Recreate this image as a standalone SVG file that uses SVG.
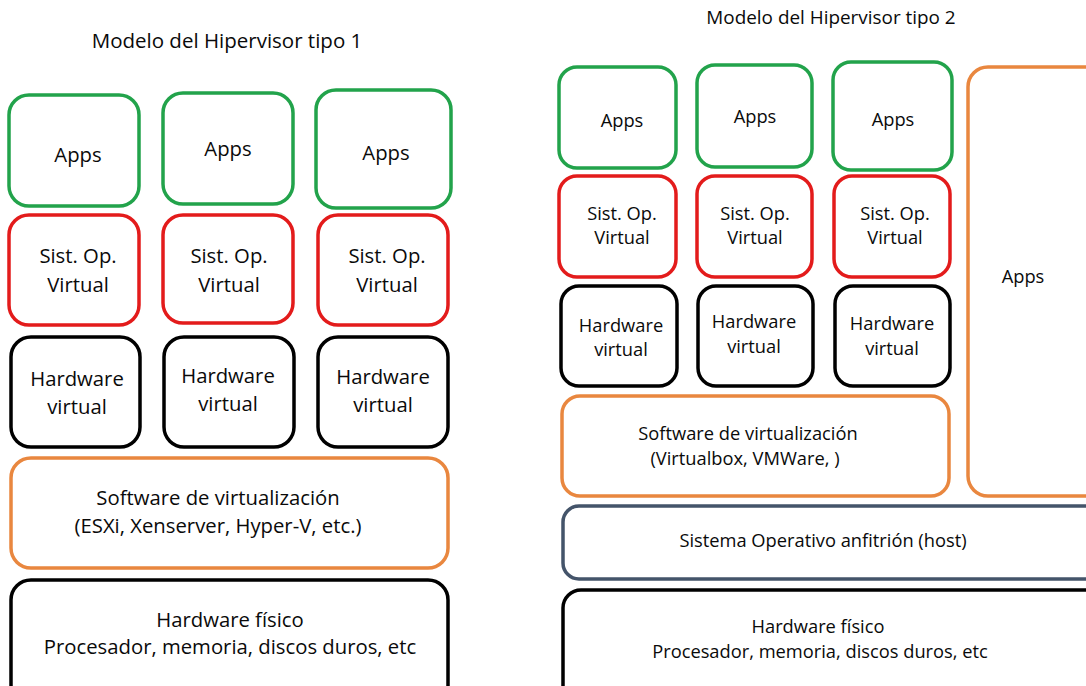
<svg xmlns="http://www.w3.org/2000/svg" width="1086" height="686" viewBox="0 0 1086 686">
<style>
rect{fill:#fff}
.g{stroke:#22A34B;stroke-width:3.5}
.r{stroke:#E31B1B;stroke-width:3.5}
.k{stroke:#000;stroke-width:3.5}
.o{stroke:#E9873F;stroke-width:3.5}
.s{stroke:#44546A;stroke-width:3.5}
text{font-family:"Open Sans","Noto Sans",sans-serif;fill:#0a0a0a;text-anchor:middle}
.L{font-size:20.3px}
.R{font-size:18.3px}
.T1{font-size:20.5px}
.T2{font-size:18.9px}
</style>
<rect width="1086" height="686" style="fill:#fff"/>
<g id="title1"><text class="T1" x="227" y="48">Modelo del Hipervisor tipo 1</text></g>
<g id="title2"><text class="T2" x="831" y="24">Modelo del Hipervisor tipo 2</text></g>

<g id="t1-apps1"><rect class="g" x="9" y="95" width="130" height="111" rx="20"/><text class="L" x="78" y="162">Apps</text></g>
<g id="t1-apps2"><rect class="g" x="163" y="93" width="130" height="111" rx="20"/><text class="L" x="228" y="156">Apps</text></g>
<g id="t1-apps3"><rect class="g" x="316" y="90" width="135" height="118" rx="20"/><text class="L" x="386" y="160">Apps</text></g>

<g id="t1-os1"><rect class="r" x="9" y="215" width="130" height="110" rx="20"/><text class="L" x="78" y="263">Sist. Op.</text><text class="L" x="78" y="292">Virtual</text></g>
<g id="t1-os2"><rect class="r" x="163" y="215" width="130" height="108" rx="20"/><text class="L" x="229" y="263">Sist. Op.</text><text class="L" x="229" y="292">Virtual</text></g>
<g id="t1-os3"><rect class="r" x="318" y="215" width="130" height="110" rx="20"/><text class="L" x="387" y="263">Sist. Op.</text><text class="L" x="387" y="292">Virtual</text></g>

<g id="t1-hw1"><rect class="k" x="11" y="337" width="129" height="110" rx="20"/><text class="L" x="77" y="386">Hardware</text><text class="L" x="77" y="414">virtual</text></g>
<g id="t1-hw2"><rect class="k" x="164" y="337" width="130" height="110" rx="20"/><text class="L" x="228" y="383">Hardware</text><text class="L" x="228" y="411">virtual</text></g>
<g id="t1-hw3"><rect class="k" x="318" y="337" width="130" height="110" rx="20"/><text class="L" x="383" y="384">Hardware</text><text class="L" x="383" y="412">virtual</text></g>

<g id="t1-sw"><rect class="o" x="11" y="458" width="437" height="110" rx="20"/><text class="L" x="218" y="505">Software de virtualización</text><text class="L" x="218" y="533">(ESXi, Xenserver, Hyper-V, etc.)</text></g>
<g id="t1-phys"><rect class="k" x="11" y="580" width="437" height="125" rx="20"/><text class="L" x="230" y="627">Hardware físico</text><text class="L" x="230" y="654">Procesador, memoria, discos duros, etc</text></g>

<g id="t2-apps1"><rect class="g" x="559" y="67" width="117" height="101" rx="18"/><text class="R" x="622" y="127">Apps</text></g>
<g id="t2-apps2"><rect class="g" x="697" y="65" width="115" height="102" rx="18"/><text class="R" x="755" y="123">Apps</text></g>
<g id="t2-apps3"><rect class="g" x="833" y="62" width="119" height="108" rx="18"/><text class="R" x="893" y="126">Apps</text></g>
<g id="t2-appsbig"><rect class="o" x="968" y="67" width="140" height="429" rx="20"/><text class="R" x="1023" y="283">Apps</text></g>

<g id="t2-os1"><rect class="r" x="559" y="176" width="117" height="101" rx="18"/><text class="R" x="622" y="220">Sist. Op.</text><text class="R" x="622" y="244">Virtual</text></g>
<g id="t2-os2"><rect class="r" x="697" y="176" width="115" height="101" rx="18"/><text class="R" x="755" y="220">Sist. Op.</text><text class="R" x="755" y="244">Virtual</text></g>
<g id="t2-os3"><rect class="r" x="834" y="176" width="116" height="101" rx="18"/><text class="R" x="895" y="220">Sist. Op.</text><text class="R" x="895" y="244">Virtual</text></g>

<g id="t2-hw1"><rect class="k" x="561" y="286" width="116" height="100" rx="18"/><text class="R" x="621" y="332">Hardware</text><text class="R" x="621" y="356">virtual</text></g>
<g id="t2-hw2"><rect class="k" x="698" y="286" width="115" height="100" rx="18"/><text class="R" x="754" y="328">Hardware</text><text class="R" x="754" y="353">virtual</text></g>
<g id="t2-hw3"><rect class="k" x="835" y="286" width="115" height="100" rx="18"/><text class="R" x="892" y="330">Hardware</text><text class="R" x="892" y="355">virtual</text></g>

<g id="t2-sw"><rect class="o" x="562" y="396" width="387" height="100" rx="18"/><text class="R" x="748" y="440">Software de virtualización</text><text class="R" x="745" y="465">(Virtualbox, VMWare, )</text></g>
<g id="t2-host"><rect class="s" x="563" y="506" width="545" height="73" rx="16"/><text class="R" x="823" y="547">Sistema Operativo anfitrión (host)</text></g>
<g id="t2-phys"><rect class="k" x="563" y="590" width="545" height="120" rx="18"/><text class="R" x="818" y="633">Hardware físico</text><text class="R" x="820" y="658">Procesador, memoria, discos duros, etc</text></g>

<g id="connectors"/>
</svg>
